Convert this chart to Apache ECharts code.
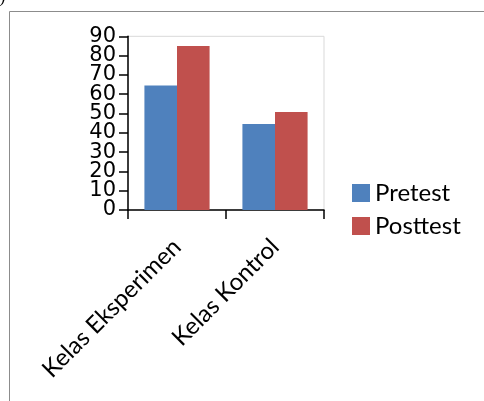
<!DOCTYPE html>
<html>
<head>
<meta charset="utf-8">
<script src="https://cdn.jsdelivr.net/npm/echarts@6/dist/echarts.min.js"></script>
<style>
html,body{margin:0;padding:0;background:#fff;}
#chart{width:484px;height:401px;}
</style>
</head>
<body>
<div id="chart"></div>
<script>
var categories = ['Kelas Eksperimen', 'Kelas Kontrol'];
var seriesNames = ['Pretest', 'Posttest'];
var pretest = [64.5, 44.5];
var posttest = [85, 50.8];
var yTicksEven = [0, 20, 40, 60, 80];
var yTicksOdd = [10, 30, 50, 70, 90];

var yLabelStyle = {margin: 12, fontFamily: 'DejaVu Sans', fontSize: 21, color: '#000',
  showMinLabel: true, showMaxLabel: true};

var chart = echarts.init(document.getElementById('chart'), null, {renderer: 'canvas'});
chart.setOption({
  animation: false,
  backgroundColor: '#fff',
  graphic: [
    {type: 'line', shape: {x1: 9.5, y1: 11.5, x2: 484, y2: 11.5}, style: {stroke: '#8c8c8c', lineWidth: 1}},
    {type: 'line', shape: {x1: 9.5, y1: 11.5, x2: 9.5, y2: 401}, style: {stroke: '#8c8c8c', lineWidth: 1}},
    {type: 'text', left: 0, top: -9, style: {text: ')', font: 'italic 16px "Liberation Serif"', fill: '#000'}}
  ],
  grid: {
    left: 128, right: 160, top: 36.3, bottom: 191,
    show: true, borderColor: '#d9d9d9', borderWidth: 1, backgroundColor: 'transparent'
  },
  legend: {
    orient: 'vertical',
    left: 352, top: 181,
    padding: 0,
    itemWidth: 18, itemHeight: 18, itemGap: 9,
    icon: 'rect',
    data: seriesNames,
    textStyle: {fontFamily: 'Lato', fontSize: 24, color: '#000'}
  },
  xAxis: {
    type: 'category',
    data: categories,
    boundaryGap: true,
    axisLine: {show: true, lineStyle: {color: '#000', width: 1.5}},
    axisTick: {show: true, length: 9, lineStyle: {color: '#000', width: 1.5}},
    axisLabel: {rotate: 45, margin: 33, fontFamily: 'Lato', fontSize: 24, color: '#000', interval: 0},
    splitLine: {show: false}
  },
  yAxis: [
    {
      type: 'value', position: 'left',
      min: 0, max: 90, interval: 10,
      axisLine: {show: true, lineStyle: {color: '#000', width: 1.5}},
      axisTick: {show: true, length: 9, lineStyle: {color: '#000', width: 1.5}},
      axisLabel: Object.assign({}, yLabelStyle, {
        formatter: function (v) { return yTicksEven.indexOf(v) >= 0 ? String(v) : ''; }}),
      splitLine: {show: false}
    },
    {
      type: 'value', position: 'left', offset: 0,
      min: 0, max: 90, interval: 10,
      axisLine: {show: false},
      axisTick: {show: false},
      axisLabel: Object.assign({}, yLabelStyle, {
        formatter: function (v) { return yTicksOdd.indexOf(v) >= 0 ? String(v) : ''; }}),
      splitLine: {show: false}
    }
  ],
  series: [
    {name: seriesNames[0], type: 'bar', data: pretest, barGap: '0%', barCategoryGap: '33.5%',
      itemStyle: {color: '#4F81BD'}},
    {name: seriesNames[1], type: 'bar', data: posttest, barGap: '0%', barCategoryGap: '33.5%',
      itemStyle: {color: '#C0504D'}}
  ]
});
</script>
</body>
</html>
